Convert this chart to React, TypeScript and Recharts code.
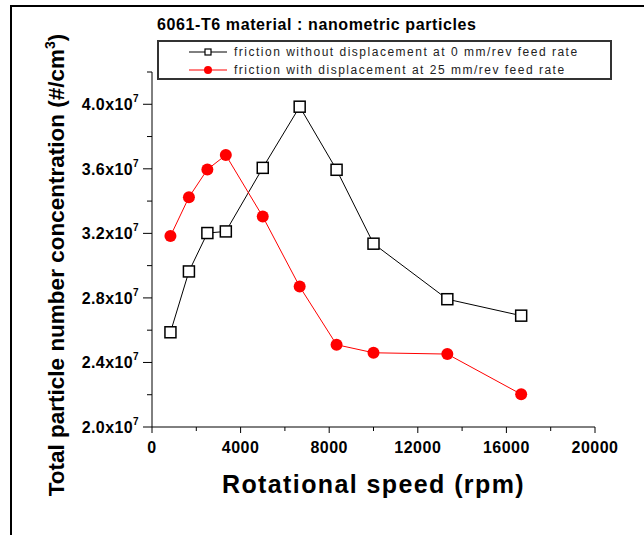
import React from 'react'
import { LineChart, Line, XAxis, YAxis, Legend } from 'recharts'

// values, rpm vs particles per cm3
const rotationalSpeed = [833, 1667, 2500, 3333, 5000, 6667, 8333, 10000, 13333, 16667]
const withoutDisplacement = [2.587e7, 2.964e7, 3.202e7, 3.212e7, 3.606e7, 3.985e7, 3.594e7, 3.136e7, 2.792e7, 2.69e7]
const withDisplacement = [3.183e7, 3.424e7, 3.596e7, 3.685e7, 3.304e7, 2.87e7, 2.51e7, 2.46e7, 2.452e7, 2.203e7]

const seriesNames = [
    'friction without displacement at 0 mm/rev feed rate',
    'friction with displacement at 25 mm/rev feed rate',
]
const xTicks = [0, 2000, 4000, 6000, 8000, 10000, 12000, 14000, 16000, 18000, 20000]
const yTicks = [2.0e7, 2.2e7, 2.4e7, 2.6e7, 2.8e7, 3.0e7, 3.2e7, 3.4e7, 3.6e7, 3.8e7, 4.0e7, 4.2e7]
const chartTitle = '6061-T6 material : nanometric particles'
const xTitle = 'Rotational speed (rpm)'
const yTitle = 'Total particle number concentration (#/cm'

const data = rotationalSpeed.map((rpm, i) => ({
    rpm,
    without: withoutDisplacement[i],
    with: withDisplacement[i],
}))

const FONT = '"Liberation Sans", Arial, sans-serif'

function XTick({ x, y, payload }: any) {
    const major = payload.value % 4000 === 0
    return (
        <g>
            <line x1={x} x2={x} y1={y} y2={y + (major ? 6 : 4)} stroke="#000" />
            {major && (
                <text x={x} y={y + 26} textAnchor="middle" fontFamily={FONT} fontWeight="bold" fontSize={16} letterSpacing={0.5} fill="#000">
                    {payload.value}
                </text>
            )}
        </g>
    )
}

function YTick({ x, y, payload }: any) {
    const major = Math.round(payload.value / 1e6) % 4 === 0
    return (
        <g>
            <line x1={x - (major ? 9 : 5)} x2={x} y1={y} y2={y} stroke="#000" />
            {major && (
                <text x={x - 13} y={y + 6} textAnchor="end" fontFamily={FONT} fontWeight="bold" fontSize={16} letterSpacing={0.4} fill="#000">
                    {(payload.value / 1e7).toFixed(1)}x10
                    <tspan dy={-8} fontSize={10}>7</tspan>
                </text>
            )}
        </g>
    )
}

function XTitle() {
    return (
        <text x={373.5} y={493} textAnchor="middle" fontFamily={FONT} fontWeight="bold" fontSize={25} letterSpacing={1.4} fill="#000">
            {xTitle}
        </text>
    )
}

function YTitle() {
    return (
        <text transform="translate(64,265) rotate(-90)" textAnchor="middle" fontFamily={FONT} fontWeight="bold" fontSize={22.5} fill="#000">
            {yTitle}
            <tspan dy={-9} fontSize={14}>3</tspan>
            <tspan dy={9}>)</tspan>
        </text>
    )
}

function SquareDot({ cx, cy }: any) {
    return <rect x={cx - 5.5} y={cy - 5.5} width={11} height={11} fill="#fff" stroke="#000" strokeWidth={1.5} />
}

function CircleDot({ cx, cy }: any) {
    return <circle cx={cx} cy={cy} r={6} fill="#ff0000" stroke="none" />
}

function LegendBox() {
    return (
        <div style={{ width: 455, height: 40, boxSizing: 'border-box', border: '2px solid #333', background: '#fff' }}>
            <svg width={451} height={36} style={{ display: 'block' }}>
                <line x1={30} x2={68} y1={10} y2={10} stroke="#000" strokeWidth={1} />
                <rect x={46} y={7} width={6} height={6} fill="#fff" stroke="#000" strokeWidth={1.2} />
                <line x1={30} x2={68} y1={28} y2={28} stroke="#ff0000" strokeWidth={1} />
                <circle cx={49} cy={28} r={4} fill="#ff0000" />
                <text x={75} y={14} fontFamily={FONT} fontSize={12} letterSpacing={1.5} fill="#222">{seriesNames[0]}</text>
                <text x={75} y={32} fontFamily={FONT} fontSize={12} letterSpacing={1.5} fill="#222">{seriesNames[1]}</text>
            </svg>
        </div>
    )
}

export default function App() {
    return (
        <div style={{ position: 'absolute', left: 0, top: 0, width: 644, height: 535, background: '#fff' }}>
            <div
                style={{
                    position: 'absolute', left: 10, top: 5, width: 634, height: 530,
                    borderTop: '2px solid #000', borderLeft: '2px solid #000',
                }}
            />
            <div
                style={{
                    position: 'absolute', left: 157, top: 15, fontFamily: FONT, fontWeight: 'bold',
                    fontSize: 16, letterSpacing: 0.6, color: '#000', whiteSpace: 'nowrap', lineHeight: '20px',
                }}
            >
                {chartTitle}
            </div>
            <LineChart width={644} height={535} data={data} margin={{ top: 72, right: 49, bottom: 0, left: 0 }}>
                <XAxis
                    dataKey="rpm"
                    type="number"
                    domain={[0, 20000]}
                    ticks={xTicks}
                    interval={0}
                    height={108}
                    tickSize={0}
                    tickMargin={0}
                    tick={<XTick />}
                    stroke="#000"
                    label={<XTitle />}
                />
                <YAxis
                    type="number"
                    domain={[2e7, 4.2e7]}
                    ticks={yTicks}
                    interval={0}
                    width={152}
                    tickSize={0}
                    tickMargin={0}
                    tick={<YTick />}
                    stroke="#000"
                    label={<YTitle />}
                />
                <Legend
                    layout="vertical"
                    align="center"
                    verticalAlign="middle"
                    content={<LegendBox />}
                    wrapperStyle={{ left: 157, top: 40, width: 455, height: 40 }}
                />
                <Line
                    type="linear"
                    dataKey="without"
                    name={seriesNames[0]}
                    stroke="#000"
                    strokeWidth={1}
                    dot={<SquareDot />}
                    isAnimationActive={false}
                />
                <Line
                    type="linear"
                    dataKey="with"
                    name={seriesNames[1]}
                    stroke="#ff0000"
                    strokeWidth={1}
                    dot={<CircleDot />}
                    isAnimationActive={false}
                />
            </LineChart>
        </div>
    )
}
